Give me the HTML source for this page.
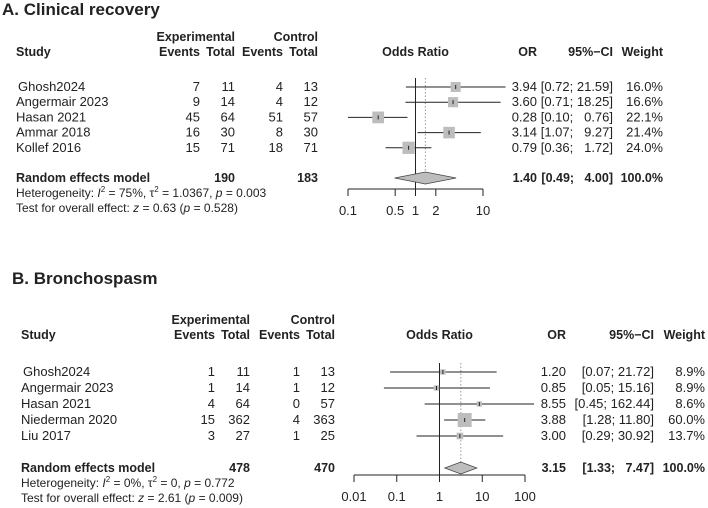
<!DOCTYPE html>
<html><head><meta charset="utf-8"><style>
body{margin:0;background:#fff}
svg{display:block;font-family:"Liberation Sans",Arial,sans-serif}
text{font-size:13px;fill:#222}
.b{font-weight:bold;font-size:12.5px}
</style></head><body>
<svg id="svg" width="708" height="508" viewBox="0 0 708 508"></svg>
<script>
// Panel A data
const aStudies=["Ghosh2024","Angermair 2023","Hasan 2021","Ammar 2018","Kollef 2016"];
const aExpEv=[7,9,45,16,15];
const aExpTot=[11,14,64,30,71];
const aCtlEv=[4,4,51,8,18];
const aCtlTot=[13,12,57,30,71];
const aOR=[3.94,3.60,0.28,3.14,0.79];
const aLo=[0.72,0.71,0.10,1.07,0.36];
const aHi=[21.59,18.25,0.76,9.27,1.72];
const aW=[16.0,16.6,22.1,21.4,24.0];
const aPooled=[1.40,0.49,4.00];
const aTicks=[0.1,0.5,1,2,10];
const aTickLabels=["0.1","0.5","1","2","10"];
// Panel B data
const bStudies=["Ghosh2024","Angermair 2023","Hasan 2021","Niederman 2020","Liu 2017"];
const bExpEv=[1,1,4,15,3];
const bExpTot=[11,14,64,362,27];
const bCtlEv=[1,1,0,4,1];
const bCtlTot=[13,12,57,363,25];
const bOR=[1.20,0.85,8.55,3.88,3.00];
const bLo=[0.07,0.05,0.45,1.28,0.29];
const bHi=[21.72,15.16,162.44,11.80,30.92];
const bW=[8.9,8.9,8.6,60.0,13.7];
const bPooled=[3.15,1.33,7.47];
const bTicks=[0.01,0.1,1,10,100];
const bTickLabels=["0.01","0.1","1","10","100"];

const NS="http://www.w3.org/2000/svg";
const svg=document.getElementById('svg');
function el(tag,attrs,txt){const e=document.createElementNS(NS,tag);for(const k in attrs)e.setAttribute(k,attrs[k]);if(txt!==undefined)e.innerHTML=txt;svg.appendChild(e);return e;}
function T(x,y,s,anchor,cls,name){const e=el('text',{x:x,y:y,'text-anchor':anchor||'start','class':cls||''},s);

return e;}
const f2=v=>v.toFixed(2), p1=v=>v.toFixed(1)+"%";

function panel(o){
 const X=v=>o.x1+Math.log10(v)*o.dec;
 T(o.tx,o.ty,o.title,'start','b','panel-title').style.fontSize='17px';
 T(o.sx,o.h1+15,'Study','start','b','study-header');
 T(o.c[1],o.h1,'Experimental','end','b','experimental-header');
 T(o.c[3],o.h1,'Control','end','b','control-header');
 ['Events','Total','Events','Total'].forEach((s,i)=>T(o.c[i],o.h1+15,s,'end','b','column-header'));
 T((o.ax0+o.ax1)/2,o.h1+15,'Odds Ratio','middle','b','odds-ratio-header');
 T(o.orx,o.h1+15,'OR','end','b','or-header');
 T(o.cix,o.h1+15,'95%\u2212CI','end','b','ci-header');
 T(o.wx,o.h1+15,'Weight','end','b','weight-header');
 const top=o.r0-9;
 el('line',{x1:X(1),x2:X(1),y1:top,y2:o.axy,stroke:'#222','stroke-width':1});
 el('line',{x1:X(o.pooled[0]),x2:X(o.pooled[0]),y1:top,y2:o.dy+7,stroke:'#999','stroke-width':1,'stroke-dasharray':'1.5,2'});
 o.studies.forEach((s,i)=>{
  const y=o.r0+i*o.rh;
  T(o.sx+(i==0?2:0),y+4,s,'start','','study-name');
  [o.ee,o.et,o.ce,o.ct].forEach((arr,j)=>T(o.c[j],y+4,arr[i],'end','','count'));
  const l=el('line',{x1:X(o.lo[i]),x2:X(o.hi[i]),y1:y,y2:y,stroke:'#222','stroke-width':1});
  
  const sz=o.k*Math.sqrt(o.w[i]);
  const r=el('rect',{x:X(o.or[i])-sz/2,y:y-sz/2,width:sz,height:sz,fill:'#bdbdbd'});
  
  el('line',{x1:X(o.or[i]),x2:X(o.or[i]),y1:y-2,y2:y+2,stroke:'#222','stroke-width':1});
  T(o.orx,y+4,f2(o.or[i]),'end','','or-value');
  T(o.cix,y+4,'['+f2(o.lo[i])+'; '+f2(o.hi[i]).padStart(5,'\u2007')+']','end','','ci-value');
  T(o.wx,y+4,p1(o.w[i]),'end','','weight-value');
 });
 const dy=o.dy;
 T(o.sx,dy+4,'Random effects model','start','b','random-effects-label');
 T(o.c[1],dy+4,o.tot[0],'end','b','exp-total');
 T(o.c[3],dy+4,o.tot[1],'end','b','ctl-total');
 const d=el('polygon',{points:`${X(o.pooled[1])},${dy} ${X(o.pooled[0])},${dy-6} ${X(o.pooled[2])},${dy} ${X(o.pooled[0])},${dy+6}`,fill:'#bdbdbd',stroke:'#444','stroke-width':0.8});
 
 T(o.orx,dy+4,f2(o.pooled[0]),'end','b','pooled-or');
 T(o.cix,dy+4,'['+f2(o.pooled[1])+'; '+f2(o.pooled[2]).padStart(5,'\u2007')+']','end','b','pooled-ci');
 T(o.wx,dy+4,'100.0%','end','b','pooled-weight');
 T(o.sx,dy+19,o.het,'start','','heterogeneity').style.fontSize='12px';
 T(o.sx,dy+34,o.test,'start','','overall-test').style.fontSize='12px';
 el('line',{x1:X(o.ticks[0]),x2:X(o.ticks[o.ticks.length-1]),y1:o.axy,y2:o.axy,stroke:'#222'});
 o.ticks.forEach((t,i)=>{el('line',{x1:X(t),x2:X(t),y1:o.axy,y2:o.axy+7,stroke:'#222'});
  T(X(t),o.axy+26,o.tl[i],'middle','','x-tick-label');});
}
panel({title:'A. Clinical recovery',tx:2,ty:15,sx:16,h1:41,c:[200,235,283,318],x1:415.5,dec:67.5,ax0:348,ax1:483,
 orx:537,cix:613,wx:663,r0:87,rh:15.2,dy:178,axy:189,k:2.5,
 studies:aStudies,ee:aExpEv,et:aExpTot,ce:aCtlEv,ct:aCtlTot,or:aOR,lo:aLo,hi:aHi,w:aW,pooled:aPooled,tot:[190,183],
 ticks:aTicks,tl:aTickLabels,
 het:'Heterogeneity: <tspan font-style="italic">I</tspan><tspan dy="-5" font-size="8">2</tspan><tspan dy="5"> = 75%, τ</tspan><tspan dy="-5" font-size="8">2</tspan><tspan dy="5"> = 1.0367, </tspan><tspan font-style="italic">p</tspan> = 0.003',
 test:'Test for overall effect: <tspan font-style="italic">z</tspan> = 0.63 (<tspan font-style="italic">p</tspan> = 0.528)'});
panel({title:'B. Bronchospasm',tx:12,ty:284,sx:21,h1:324,c:[215,250,300,335],x1:439.5,dec:42.75,ax0:354,ax1:525,
 orx:566,cix:654,wx:705,r0:372,rh:16,dy:468,axy:475,k:1.8,
 studies:bStudies,ee:bExpEv,et:bExpTot,ce:bCtlEv,ct:bCtlTot,or:bOR,lo:bLo,hi:bHi,w:bW,pooled:bPooled,tot:[478,470],
 ticks:bTicks,tl:bTickLabels,
 het:'Heterogeneity: <tspan font-style="italic">I</tspan><tspan dy="-5" font-size="8">2</tspan><tspan dy="5"> = 0%, τ</tspan><tspan dy="-5" font-size="8">2</tspan><tspan dy="5"> = 0, </tspan><tspan font-style="italic">p</tspan> = 0.772',
 test:'Test for overall effect: <tspan font-style="italic">z</tspan> = 2.61 (<tspan font-style="italic">p</tspan> = 0.009)'});
</script>
</body></html>
